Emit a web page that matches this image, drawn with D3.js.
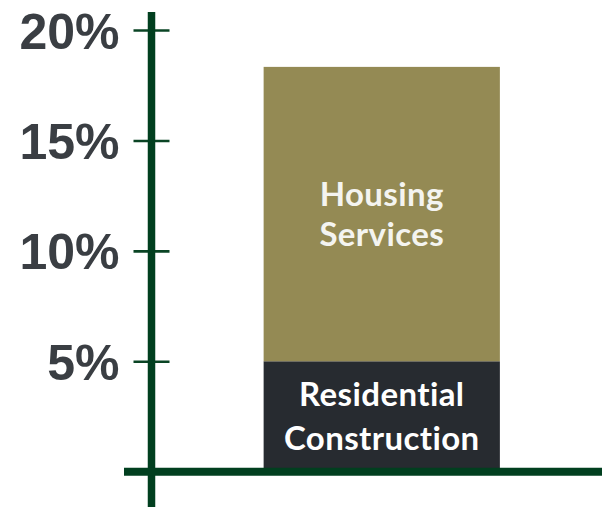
<!DOCTYPE html>
<html>
<head>
<meta charset="utf-8">
<script src="https://cdn.jsdelivr.net/npm/d3@7"></script>
<style>
  html, body { margin: 0; padding: 0; background: #fff; }
</style>
</head>
<body>
<div id="chart"></div>
<script>
// values
const categories = ["Housing"];
const segments = ["Residential Construction", "Housing Services"];
const segmentLabels = [["Residential", "Construction"], ["Housing", "Services"]];
const segmentValues = [5, 13.33]; // percent, stacked bottom to top
const yTicks = [5, 10, 15, 20];
const segmentColors = ["#272b30", "#948a54"];
const labelColors = ["#ffffff", "#f4f4f0"];

const width = 608,
  height = 507,
  axisX = 151.5, // where the y-axis crosses
  axisY = 471.7, // where the x-axis sits
  marginTop = 30,
  rightEnd = 602;

const svg = d3
  .select("#chart")
  .append("svg")
  .attr("width", width)
  .attr("height", height)
  .attr("viewBox", [0, 0, width, height]);

const y = d3.scaleLinear().domain([0, 20]).range([axisY, marginTop]);
const x = d3
  .scaleBand()
  .domain(categories)
  .range([axisX, 612])
  .paddingInner(0)
  .paddingOuter(0.4746);

// stack the segments
const rows = [Object.fromEntries(segments.map((s, i) => [s, segmentValues[i]]))];
const stacked = d3.stack().keys(segments)(rows);

const bars = svg.append("g");
stacked.forEach((layer, i) => {
  const [y0, y1] = layer[0];
  bars
    .append("rect")
    .attr("x", x(categories[0]))
    .attr("width", x.bandwidth())
    .attr("y", y(y1))
    .attr("height", y(y0) - y(y1))
    .attr("fill", segmentColors[i]);

  // centered two-line label
  const cx = x(categories[0]) + x.bandwidth() / 2;
  const cy = (y(y0) + y(y1)) / 2;
  const lines = segmentLabels[i];
  const lineGap = i === 0 ? 44 : 40;
  bars
    .append("text")
    .attr("text-anchor", "middle")
    .attr("font-family", "Lato, 'Open Sans', sans-serif")
    .attr("font-weight", 700)
    .attr("font-size", 33)
    .attr("letter-spacing", 0.4)
    .style("font-variant-ligatures", "none")
    .attr("fill", labelColors[i])
    .selectAll("tspan")
    .data(lines)
    .join("tspan")
    .attr("x", cx)
    .attr("y", (d, j) => cy + (j - (lines.length - 1) / 2) * lineGap + 12)
    .text((d) => d);
});

// y axis with ticks crossing the line
const yAxis = d3
  .axisLeft(y)
  .tickValues(yTicks)
  .tickFormat((d) => d + "%")
  .tickSize(18)
  .tickPadding(13);

svg
  .append("g")
  .attr("transform", `translate(${axisX},0)`)
  .call(yAxis)
  .call((g) => g.select(".domain").remove())
  .call((g) =>
    g
      .selectAll(".tick line")
      .attr("x1", 18)
      .attr("x2", -18)
      .attr("stroke", "#0a4424")
      .attr("stroke-width", 2.6)
  )
  .call((g) =>
    g
      .selectAll(".tick text")
      .attr("x", -32)
      .attr("dy", "0.36em")
      .attr("font-family", "'Liberation Sans', Arial, sans-serif")
      .attr("font-weight", 700)
      .attr("font-size", 50)
      .attr("fill", "#3a3e43")
  );

// heavy axis lines
svg
  .append("line")
  .attr("x1", axisX)
  .attr("x2", axisX)
  .attr("y1", y(20) - 18)
  .attr("y2", height)
  .attr("stroke", "#013f1f")
  .attr("stroke-width", 7.5);

svg
  .append("line")
  .attr("x1", 124)
  .attr("x2", rightEnd)
  .attr("y1", y(0))
  .attr("y2", y(0))
  .attr("stroke", "#013f1f")
  .attr("stroke-width", 8);
</script>
</body>
</html>
